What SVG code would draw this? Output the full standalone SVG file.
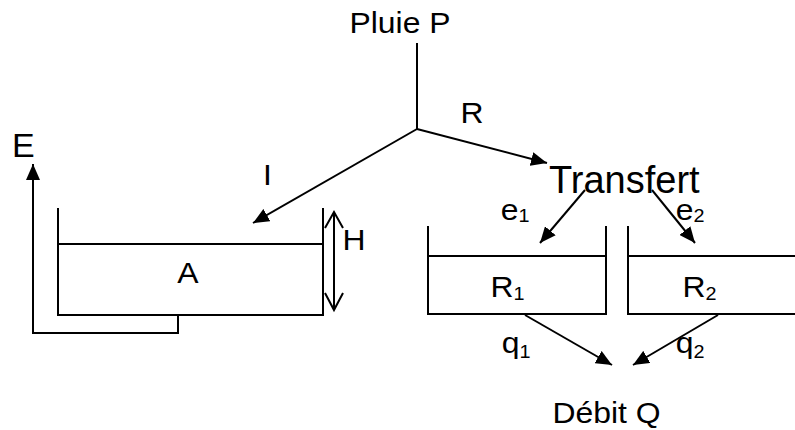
<svg xmlns="http://www.w3.org/2000/svg" width="795" height="430" viewBox="0 0 795 430">
<style>
text{font-family:"Liberation Sans",Arial,sans-serif;fill:#000}
.t{font-size:29px}
.sub{font-size:18px}
.ln{stroke:#000;stroke-width:2;fill:none}
.tk{stroke:#000;stroke-width:2;fill:none}
</style>
<defs>
<marker id="ah" markerUnits="userSpaceOnUse" markerWidth="16" markerHeight="14" refX="16" refY="7" orient="auto" viewBox="0 0 16 14">
<path d="M0,0 L16,7 L0,14 z" fill="#000"/>
</marker>
</defs>
<rect width="795" height="430" fill="#fff"/>
<g id="connectors">
<line class="ln" x1="417" y1="43" x2="417" y2="129"/>
<line class="ln" x1="417" y1="129" x2="547" y2="163" marker-end="url(#ah)"/>
<line class="ln" x1="417" y1="129" x2="253" y2="223" marker-end="url(#ah)"/>
<line class="ln" x1="585" y1="190" x2="540" y2="243" marker-end="url(#ah)"/>
<line class="ln" x1="652" y1="190" x2="695" y2="243" marker-end="url(#ah)"/>
<line class="ln" x1="525" y1="315" x2="612" y2="365" marker-end="url(#ah)"/>
<line class="ln" x1="718" y1="315" x2="633" y2="365" marker-end="url(#ah)"/>
<polyline class="ln" points="178,315 178,333 33,333 33,164" marker-end="url(#ah)"/>
<g id="H-arrow">
<line class="ln" x1="334" y1="212" x2="334" y2="310"/>
<polyline class="ln" points="325,228 334,212 343,228"/>
<polyline class="ln" points="325,293 334,310 343,293"/>
</g>
</g>
<g id="pluie"><text class="t" transform="translate(349.5,33) scale(1.1,1)">Pluie P</text></g>
<g id="label-R"><text class="t" transform="translate(460.5,123) scale(1.1,1)">R</text></g>
<g id="label-I"><text class="t" transform="translate(263,185) scale(1.1,1)">I</text></g>
<g id="label-E"><text x="12" y="157" style="font-size:34px">E</text></g>
<g id="transfert"><text x="549" y="193" style="font-size:38px">Transfert</text></g>
<g id="label-H"><text class="t" transform="translate(342.5,250) scale(1.1,1)">H</text></g>
<g id="tankA">
<path class="tk" d="M58,208 V315 H323 V208"/>
<line class="tk" x1="58" y1="244" x2="323" y2="244"/>
<text class="t" transform="translate(188,283) scale(1.1,1)" text-anchor="middle">A</text>
</g>
<g id="tankR1">
<path class="tk" d="M428,226 V314 H606 V226"/>
<line class="tk" x1="428" y1="256" x2="606" y2="256"/>
<text class="t" transform="translate(490.5,297) scale(1.1,1)">R<tspan class="sub" dy="3">1</tspan></text>
</g>
<g id="tankR2">
<path class="tk" d="M628,226 V314 H797"/>
<line class="tk" x1="628" y1="256" x2="797" y2="256"/>
<text class="t" transform="translate(682.5,297) scale(1.1,1)">R<tspan class="sub" dy="3">2</tspan></text>
</g>
<g id="label-e1"><text class="t" transform="translate(500.7,220) scale(1.1,1)">e<tspan class="sub" dy="2">1</tspan></text></g>
<g id="label-e2"><text class="t" transform="translate(675.7,220) scale(1.1,1)">e<tspan class="sub" dy="2">2</tspan></text></g>
<g id="label-q1"><text class="t" transform="translate(501.7,353) scale(1.1,1)">q<tspan class="sub" dy="5">1</tspan></text></g>
<g id="label-q2"><text class="t" transform="translate(675.7,353) scale(1.1,1)">q<tspan class="sub" dy="5">2</tspan></text></g>
<g id="debit"><text class="t" transform="translate(552.5,423) scale(1.1,1)">Débit Q</text></g>
</svg>
